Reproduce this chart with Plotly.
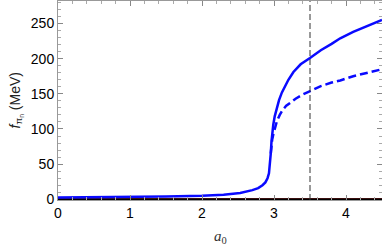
import plotly.graph_objects as go

# blue solid curve
a_solid = [0, 0.5, 1.0, 1.5, 2.0, 2.3, 2.53, 2.7, 2.78, 2.84, 2.88, 2.91, 2.93, 2.945, 2.955, 2.965,
           2.975, 2.99, 3.01, 3.04, 3.07, 3.11, 3.15, 3.2, 3.27, 3.37, 3.5, 3.65, 3.8, 3.92,
           4.1, 4.3, 4.5]
f_solid = [2.5, 2.8, 3.2, 3.8, 5.0, 6.5, 9.0, 13, 16, 20, 24, 30, 37, 50, 65, 82,
           94, 106, 118, 131, 141, 152, 161, 170, 181, 192, 201, 212, 221, 229,
           238, 247, 255]
# blue dashed curve (branch)
a_dash = [2.955, 2.965, 2.975, 2.99, 3.01, 3.04, 3.08, 3.12, 3.17, 3.23, 3.3, 3.4, 3.5, 3.65,
          3.8, 3.92, 4.1, 4.3, 4.5]
f_dash = [65, 78, 85, 92, 101, 111, 120, 127, 133, 138, 143, 149, 154, 161,
          166, 169, 175, 180, 185]
# near-zero curves
a_zero = [0, 4.5]
f_black = [0, 0]
f_red = [0.8, 0.8]
a_red_dash = [3.85, 4.5]
f_red_dash = [-0.6, -0.6]
a_vline = 3.5

x_ticks = [0, 1, 2, 3, 4]
y_ticks = [0, 50, 100, 150, 200, 250]

fig = go.Figure()
fig.add_trace(go.Scatter(x=a_zero, y=f_red, mode="lines", line=dict(color="#e00000", width=1.2)))
fig.add_trace(go.Scatter(x=a_red_dash, y=f_red_dash, mode="lines",
                         line=dict(color="#e00000", width=2, dash="dash")))
fig.add_trace(go.Scatter(x=a_zero, y=f_black, mode="lines", line=dict(color="black", width=2.2)))
fig.add_trace(go.Scatter(x=a_dash, y=f_dash, mode="lines",
                         line=dict(color="#0a0aff", width=2.5, dash="8px,4px")))
fig.add_trace(go.Scatter(x=a_solid, y=f_solid, mode="lines",
                         line=dict(color="#0a0aff", width=2.5)))

fig.add_shape(type="line", x0=a_vline, x1=a_vline, y0=0, y1=1, yref="paper",
              line=dict(color="#333333", width=1, dash="6px,3px"))

fig.add_annotation(text="<i>a</i><sub>0</sub>", xref="paper", yref="paper",
                   x=0.5, y=0, yshift=-37, xanchor="center", yanchor="middle", showarrow=False,
                   font=dict(family="Liberation Serif, Times New Roman", size=15, color="#333"))
fig.add_annotation(text="<i>f</i><sub>π<sub>n</sub></sub> (MeV)", xref="paper", yref="paper",
                   x=0, xshift=-42, y=0.5, xanchor="center", yanchor="middle", showarrow=False,
                   textangle=-90, font=dict(size=14, color="#222"))

fig.update_layout(
    width=382, height=248,
    margin=dict(l=58, r=0, t=1, b=48, autoexpand=False),
    paper_bgcolor="white", plot_bgcolor="white",
    showlegend=False,
    font=dict(family="Liberation Sans, Arial", size=14, color="black"),
)
fig.update_xaxes(range=[0, 4.5], tickvals=x_ticks, ticks="inside", ticklen=5, tickcolor="#888",
                 showline=True, linecolor="#999", linewidth=1, mirror="ticks", showgrid=False,
                 zeroline=False, automargin=False,
                 minor=dict(ticks="inside", ticklen=3, dtick=0.2, tickcolor="#aaa"))
fig.update_yaxes(range=[-1, 282], tickvals=y_ticks, ticks="inside", ticklen=5, tickcolor="#888",
                 showline=True, linecolor="#999", linewidth=1, mirror="ticks", showgrid=False,
                 zeroline=False, automargin=False,
                 minor=dict(ticks="inside", ticklen=3, dtick=10, tickcolor="#aaa"))

fig.write_html("out.html", config={"displayModeBar": False},
               post_script="document.body.style.margin='0';")
